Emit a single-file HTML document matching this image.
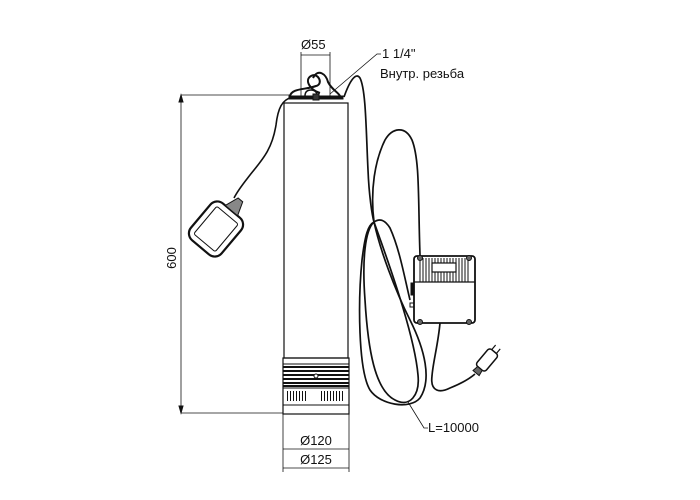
<!DOCTYPE html>
<html><head><meta charset="utf-8"><style>
html,body{margin:0;padding:0;background:#fff;width:700px;height:500px;overflow:hidden}
svg{display:block}
text{font-family:"Liberation Sans",sans-serif;font-size:13px;fill:#111}
</style></head><body>
<svg width="700" height="500" viewBox="0 0 700 500" xmlns="http://www.w3.org/2000/svg">
<g fill="none" stroke="#111" stroke-width="1">
<line x1="181" y1="95" x2="181" y2="413" stroke-width="0.8"/>
<line x1="181" y1="95" x2="290" y2="95" stroke-width="0.8"/>
<line x1="181" y1="413" x2="283" y2="413" stroke-width="0.8"/>
<path d="M181 95 l-2 7 h4z M181 413 l-2 -7 h4z" fill="#111"/>
<rect x="284" y="103" width="64" height="255" stroke-width="1.2"/>
<rect x="283" y="358" width="66" height="56" stroke-width="1.2"/>
<line x1="283" y1="364" x2="349" y2="364"/>
<g stroke-width="2">
<line x1="283" y1="367" x2="349" y2="367"/><line x1="283" y1="371" x2="349" y2="371"/>
<line x1="283" y1="375" x2="349" y2="375"/><line x1="283" y1="379" x2="349" y2="379"/>
<line x1="283" y1="383" x2="349" y2="383"/><line x1="283" y1="386" x2="349" y2="386"/>
</g>
<circle cx="316" cy="376" r="2" fill="#fff"/>
<line x1="283" y1="388" x2="349" y2="388"/>
<g stroke-width="1">
<path d="M287.5 391v10M290.5 391v10M293.5 391v10M296.5 391v10M299.5 391v10M302.5 391v10M305.5 391v10"/>
<path d="M321.5 391v10M324.5 391v10M327.5 391v10M330.5 391v10M333.5 391v10M336.5 391v10M339.5 391v10M342.5 391v10"/>
</g>
<line x1="283" y1="405" x2="349" y2="405"/>
<rect x="289" y="96" width="54" height="3" fill="#111"/>
<path d="M305 96 q0 -6 6 -6 q6 0 6 6" stroke-width="1.5"/>
<path d="M313 94 h6 v6 h-6z" fill="#333"/>
<path d="M290 96 C292 88 305 90 316 86 C324 84 318 72 311 76 C304 80 310 90 320 93" stroke-width="2"/>
<path d="M313 78 C318 68 326 74 328 82 C332 90 338 92 340 96" stroke-width="2"/>
<line x1="301" y1="52" x2="301" y2="98" stroke-width="0.8"/>
<line x1="330" y1="52" x2="330" y2="98" stroke-width="0.8"/>
<line x1="301" y1="55" x2="330" y2="55" stroke-width="0.8"/>
<polyline points="330,94 377,54 381,54" stroke-width="0.8"/>
<line x1="283" y1="414" x2="283" y2="472" stroke-width="0.8"/>
<line x1="349" y1="414" x2="349" y2="472" stroke-width="0.8"/>
<line x1="283" y1="449" x2="349" y2="449" stroke-width="0.8"/>
<line x1="283" y1="468" x2="349" y2="468" stroke-width="0.8"/>
<path d="M292 97 C282 100 278 108 276 125 C272 150 262 160 250 175 C243 184 238 190 234 198" stroke-width="1.6"/>
<g transform="translate(216 229) rotate(40)">
<rect x="-20" y="-24" width="40" height="48" rx="9" stroke-width="2.2"/>
<rect x="-14" y="-18" width="28" height="36" rx="2" stroke-width="1"/>
<path d="M-8 -24 L-3 -38 L3 -38 L8 -24Z" fill="#888" stroke-width="1"/>
</g>
<g stroke-width="1.7">
<path d="M344 97 C350 80 356 72 360 78 C366 90 366 130 368 170 C369 195 372 215 374 222"/>
<path d="M374 222 C380 250 395 290 410 320 C425 350 432 380 420 398 C410 410 380 405 370 390 C358 370 358 300 362 260 C365 235 368 225 374 222"/>
<path d="M374 222 C365 230 362 260 365 300 C368 350 375 390 395 400 C410 408 420 395 418 375 C415 340 395 280 374 222"/>
<path d="M374 222 C380 218 385 220 390 228 C400 250 405 280 410 300"/>
<path d="M374 222 C370 190 375 160 385 140 C392 128 405 125 412 140 C420 160 418 200 420 255"/>
<path d="M440 323 C438 345 433 362 432 376 C430 392 440 393 450 388 C460 384 468 380 475 374"/>
</g>
<g transform="translate(487 360) rotate(40)">
<rect x="-6" y="-11" width="12" height="22" rx="3" stroke-width="1.5"/>
<path d="M-3 11 l-1 6 h8 l-1 -6z" fill="#666"/>
<path d="M-3 -11 v-6 M3 -11 v-6" stroke-width="1.2"/>
</g>
<rect x="414" y="256" width="61" height="67" rx="3" stroke-width="1.8"/>
<line x1="414" y1="282" x2="475" y2="282" stroke-width="1.2"/>
<g stroke-width="1">
<path d="M420 258v24M423 258v24M426 258v24M429 258v24M432 258v24M435 258v24M438 258v24M441 258v24M444 258v24M447 258v24M450 258v24M453 258v24M456 258v24M459 258v24M462 258v24M465 258v24M468 258v24"/>
</g>
<rect x="432" y="263" width="24" height="9" fill="#fff" stroke-width="1.2"/>
<circle cx="420" cy="258" r="2.5" fill="#666"/><circle cx="469" cy="258" r="2.5" fill="#666"/>
<circle cx="420" cy="322" r="2.5" fill="#666"/><circle cx="469" cy="322" r="2.5" fill="#666"/>
<rect x="411" y="283" width="3" height="12" fill="#111"/>
<rect x="410" y="303" width="4" height="4"/>
<polyline points="408,402 424,428 428,428" stroke-width="0.8"/>
</g>
<text x="301" y="49">Ø55</text>
<text x="382" y="58">1 1/4"</text>
<text x="380" y="78">Внутр. резьба</text>
<text x="176" y="258" transform="rotate(-90 176 258)" text-anchor="middle">600</text>
<text x="316" y="445" text-anchor="middle">Ø120</text>
<text x="316" y="464" text-anchor="middle">Ø125</text>
<text x="428" y="432">L=10000</text>
</svg>
</body></html>
